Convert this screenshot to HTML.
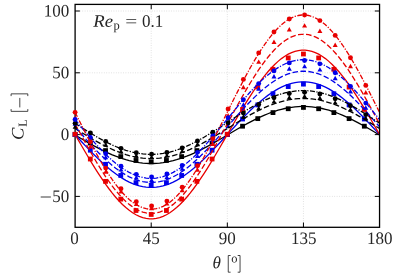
<!DOCTYPE html><html><head><meta charset="utf-8"><style>html,body{margin:0;padding:0;background:#fff}body{width:403px;height:278px;overflow:hidden}</style></head><body><svg width="403" height="278" viewBox="0 0 403 278" style="display:block;will-change:transform;font-family:'Liberation Serif',serif">
<rect width="403" height="278" fill="#fff"/>
<line x1="151.21" y1="4.4" x2="151.21" y2="227.3" stroke="#c4c4c4" stroke-width="0.6" stroke-dasharray="0.8 1.6"/>
<line x1="227.33" y1="4.4" x2="227.33" y2="227.3" stroke="#c4c4c4" stroke-width="0.6" stroke-dasharray="0.8 1.6"/>
<line x1="303.44" y1="4.4" x2="303.44" y2="227.3" stroke="#c4c4c4" stroke-width="0.6" stroke-dasharray="0.8 1.6"/>
<line x1="75.1" y1="196.40" x2="379.55" y2="196.40" stroke="#c4c4c4" stroke-width="0.6" stroke-dasharray="0.8 1.6"/>
<line x1="75.1" y1="134.60" x2="379.55" y2="134.60" stroke="#c4c4c4" stroke-width="0.6" stroke-dasharray="0.8 1.6"/>
<line x1="75.1" y1="72.80" x2="379.55" y2="72.80" stroke="#c4c4c4" stroke-width="0.6" stroke-dasharray="0.8 1.6"/>
<line x1="75.1" y1="11.00" x2="379.55" y2="11.00" stroke="#c4c4c4" stroke-width="0.6" stroke-dasharray="0.8 1.6"/>
<clipPath id="c"><rect x="75.1" y="4.4" width="304.45000000000005" height="222.9"/></clipPath>
<polyline clip-path="url(#c)" points="75.10,134.97 78.48,136.96 81.87,138.94 85.25,140.91 88.63,142.84 92.01,144.74 95.40,146.58 98.78,148.37 102.16,150.10 105.54,151.75 108.93,153.32 112.31,154.80 115.69,156.19 119.08,157.47 122.46,158.64 125.84,159.70 129.22,160.63 132.61,161.44 135.99,162.12 139.37,162.67 142.76,163.09 146.14,163.37 149.52,163.51 152.90,163.51 156.29,163.37 159.67,163.09 163.05,162.67 166.44,162.12 169.82,161.44 173.20,160.63 176.58,159.70 179.97,158.64 183.35,157.47 186.73,156.19 190.11,154.80 193.50,153.32 196.88,151.75 200.26,150.10 203.65,148.37 207.03,146.58 210.41,144.74 213.79,142.84 217.18,140.91 220.56,138.94 223.94,136.96 227.33,134.97 230.71,132.98 234.09,131.00 237.47,129.03 240.86,127.10 244.24,125.21 247.62,123.36 251.00,121.57 254.39,119.84 257.77,118.19 261.15,116.62 264.54,115.14 267.92,113.75 271.30,112.47 274.68,111.30 278.07,110.24 281.45,109.31 284.83,108.50 288.22,107.82 291.60,107.27 294.98,106.85 298.36,106.58 301.75,106.44 305.13,106.44 308.51,106.58 311.89,106.85 315.28,107.27 318.66,107.82 322.04,108.50 325.43,109.31 328.81,110.24 332.19,111.30 335.57,112.47 338.96,113.75 342.34,115.14 345.72,116.62 349.11,118.19 352.49,119.84 355.87,121.57 359.25,123.36 362.64,125.21 366.02,127.10 369.40,129.03 372.78,131.00 376.17,132.98 379.55,134.97" fill="none" stroke="#000000" stroke-width="1.3"/>
<rect x="87.92" y="140.60" width="4.8" height="4.8" fill="#000000"/>
<rect x="103.14" y="148.18" width="4.8" height="4.8" fill="#000000"/>
<rect x="118.37" y="154.20" width="4.8" height="4.8" fill="#000000"/>
<rect x="133.59" y="158.06" width="4.8" height="4.8" fill="#000000"/>
<rect x="148.81" y="159.39" width="4.8" height="4.8" fill="#000000"/>
<rect x="164.03" y="158.06" width="4.8" height="4.8" fill="#000000"/>
<rect x="179.26" y="154.20" width="4.8" height="4.8" fill="#000000"/>
<rect x="194.48" y="148.18" width="4.8" height="4.8" fill="#000000"/>
<rect x="209.70" y="140.60" width="4.8" height="4.8" fill="#000000"/>
<rect x="224.93" y="132.20" width="4.8" height="4.8" fill="#000000"/>
<rect x="240.15" y="123.80" width="4.8" height="4.8" fill="#000000"/>
<rect x="255.37" y="116.22" width="4.8" height="4.8" fill="#000000"/>
<rect x="270.59" y="110.20" width="4.8" height="4.8" fill="#000000"/>
<rect x="285.82" y="106.34" width="4.8" height="4.8" fill="#000000"/>
<rect x="301.04" y="105.01" width="4.8" height="4.8" fill="#000000"/>
<rect x="316.26" y="106.34" width="4.8" height="4.8" fill="#000000"/>
<rect x="331.48" y="110.20" width="4.8" height="4.8" fill="#000000"/>
<rect x="346.71" y="116.22" width="4.8" height="4.8" fill="#000000"/>
<rect x="361.93" y="123.80" width="4.8" height="4.8" fill="#000000"/>
<polyline clip-path="url(#c)" points="75.10,134.60 78.48,138.28 81.87,141.95 85.25,145.57 88.63,149.15 92.01,152.65 95.40,156.07 98.78,159.38 102.16,162.57 105.54,165.62 108.93,168.52 112.31,171.26 115.69,173.82 119.08,176.19 122.46,178.35 125.84,180.31 129.22,182.04 132.61,183.53 135.99,184.79 139.37,185.81 142.76,186.58 146.14,187.09 149.52,187.35 152.90,187.35 156.29,187.09 159.67,186.58 163.05,185.81 166.44,184.79 169.82,183.53 173.20,182.04 176.58,180.31 179.97,178.35 183.35,176.19 186.73,173.82 190.11,171.26 193.50,168.52 196.88,165.62 200.26,162.57 203.65,159.38 207.03,156.07 210.41,152.65 213.79,149.15 217.18,145.57 220.56,141.95 223.94,138.28 227.33,134.60 230.71,130.92 234.09,127.25 237.47,123.63 240.86,120.05 244.24,116.55 247.62,113.13 251.00,109.82 254.39,106.63 257.77,103.58 261.15,100.68 264.54,97.94 267.92,95.38 271.30,93.01 274.68,90.85 278.07,88.89 281.45,87.16 284.83,85.67 288.22,84.41 291.60,83.39 294.98,82.62 298.36,82.11 301.75,81.85 305.13,81.85 308.51,82.11 311.89,82.62 315.28,83.39 318.66,84.41 322.04,85.67 325.43,87.16 328.81,88.89 332.19,90.85 335.57,93.01 338.96,95.38 342.34,97.94 345.72,100.68 349.11,103.58 352.49,106.63 355.87,109.82 359.25,113.13 362.64,116.55 366.02,120.05 369.40,123.63 372.78,127.25 376.17,130.92 379.55,134.60" fill="none" stroke="#0000ea" stroke-width="1.3"/>
<rect x="87.92" y="147.80" width="4.8" height="4.8" fill="#0000ea"/>
<rect x="103.14" y="161.88" width="4.8" height="4.8" fill="#0000ea"/>
<rect x="118.37" y="173.05" width="4.8" height="4.8" fill="#0000ea"/>
<rect x="133.59" y="180.22" width="4.8" height="4.8" fill="#0000ea"/>
<rect x="148.81" y="182.69" width="4.8" height="4.8" fill="#0000ea"/>
<rect x="164.03" y="180.22" width="4.8" height="4.8" fill="#0000ea"/>
<rect x="179.26" y="173.05" width="4.8" height="4.8" fill="#0000ea"/>
<rect x="194.48" y="161.88" width="4.8" height="4.8" fill="#0000ea"/>
<rect x="209.70" y="147.80" width="4.8" height="4.8" fill="#0000ea"/>
<rect x="224.93" y="132.20" width="4.8" height="4.8" fill="#0000ea"/>
<rect x="240.15" y="116.60" width="4.8" height="4.8" fill="#0000ea"/>
<rect x="255.37" y="102.52" width="4.8" height="4.8" fill="#0000ea"/>
<rect x="270.59" y="91.35" width="4.8" height="4.8" fill="#0000ea"/>
<rect x="285.82" y="84.18" width="4.8" height="4.8" fill="#0000ea"/>
<rect x="301.04" y="81.71" width="4.8" height="4.8" fill="#0000ea"/>
<rect x="316.26" y="84.18" width="4.8" height="4.8" fill="#0000ea"/>
<rect x="331.48" y="91.35" width="4.8" height="4.8" fill="#0000ea"/>
<rect x="346.71" y="102.52" width="4.8" height="4.8" fill="#0000ea"/>
<rect x="361.93" y="116.60" width="4.8" height="4.8" fill="#0000ea"/>
<polyline clip-path="url(#c)" points="75.10,134.48 78.48,140.37 81.87,146.23 85.25,152.03 88.63,157.75 92.01,163.35 95.40,168.81 98.78,174.11 102.16,179.21 105.54,184.10 108.93,188.74 112.31,193.12 115.69,197.21 119.08,201.00 122.46,204.46 125.84,207.59 129.22,210.35 132.61,212.75 135.99,214.76 139.37,216.39 142.76,217.61 146.14,218.43 149.52,218.84 152.90,218.84 156.29,218.43 159.67,217.61 163.05,216.39 166.44,214.76 169.82,212.75 173.20,210.35 176.58,207.59 179.97,204.46 183.35,201.00 186.73,197.21 190.11,193.12 193.50,188.74 196.88,184.10 200.26,179.21 203.65,174.11 207.03,168.81 210.41,163.35 213.79,157.75 217.18,152.03 220.56,146.23 223.94,140.37 227.33,134.48 230.71,128.59 234.09,122.73 237.47,116.92 240.86,111.21 244.24,105.60 247.62,100.14 251.00,94.84 254.39,89.74 257.77,84.86 261.15,80.21 264.54,75.83 267.92,71.74 271.30,67.95 274.68,64.49 278.07,61.37 281.45,58.60 284.83,56.20 288.22,54.19 291.60,52.57 294.98,51.34 298.36,50.52 301.75,50.11 305.13,50.11 308.51,50.52 311.89,51.34 315.28,52.57 318.66,54.19 322.04,56.20 325.43,58.60 328.81,61.37 332.19,64.49 335.57,67.95 338.96,71.74 342.34,75.83 345.72,80.21 349.11,84.86 352.49,89.74 355.87,94.84 359.25,100.14 362.64,105.60 366.02,111.21 369.40,116.92 372.78,122.73 376.17,128.59 379.55,134.48" fill="none" stroke="#e80000" stroke-width="1.3"/>
<rect x="87.92" y="156.62" width="4.8" height="4.8" fill="#e80000"/>
<rect x="103.14" y="178.98" width="4.8" height="4.8" fill="#e80000"/>
<rect x="118.37" y="196.73" width="4.8" height="4.8" fill="#e80000"/>
<rect x="133.59" y="208.12" width="4.8" height="4.8" fill="#e80000"/>
<rect x="148.81" y="212.05" width="4.8" height="4.8" fill="#e80000"/>
<rect x="164.03" y="208.12" width="4.8" height="4.8" fill="#e80000"/>
<rect x="179.26" y="196.73" width="4.8" height="4.8" fill="#e80000"/>
<rect x="194.48" y="178.98" width="4.8" height="4.8" fill="#e80000"/>
<rect x="209.70" y="156.62" width="4.8" height="4.8" fill="#e80000"/>
<rect x="224.93" y="131.83" width="4.8" height="4.8" fill="#e80000"/>
<rect x="240.15" y="107.04" width="4.8" height="4.8" fill="#e80000"/>
<rect x="255.37" y="84.68" width="4.8" height="4.8" fill="#e80000"/>
<rect x="270.59" y="66.93" width="4.8" height="4.8" fill="#e80000"/>
<rect x="285.82" y="55.54" width="4.8" height="4.8" fill="#e80000"/>
<rect x="301.04" y="51.61" width="4.8" height="4.8" fill="#e80000"/>
<rect x="316.26" y="55.54" width="4.8" height="4.8" fill="#e80000"/>
<rect x="331.48" y="66.93" width="4.8" height="4.8" fill="#e80000"/>
<rect x="346.71" y="84.68" width="4.8" height="4.8" fill="#e80000"/>
<rect x="361.93" y="107.04" width="4.8" height="4.8" fill="#e80000"/>
<polyline clip-path="url(#c)" points="75.10,128.54 78.48,130.64 81.87,132.72 85.25,134.79 88.63,136.82 92.01,138.82 95.40,140.76 98.78,142.64 102.16,144.46 105.54,146.20 108.93,147.85 112.31,149.41 115.69,150.86 119.08,152.21 122.46,153.44 125.84,154.55 129.22,155.54 132.61,156.39 135.99,157.11 139.37,157.69 142.76,158.12 146.14,158.41 149.52,158.56 152.90,158.56 156.29,158.41 159.67,158.12 163.05,157.69 166.44,157.11 169.82,156.39 173.20,155.54 176.58,154.55 179.97,153.44 183.35,152.21 186.73,150.86 190.11,149.41 193.50,147.85 196.88,146.20 200.26,144.46 203.65,142.64 207.03,140.76 210.41,138.82 213.79,136.82 217.18,134.79 220.56,132.72 223.94,130.64 227.33,128.54 230.71,126.45 234.09,124.36 237.47,122.30 240.86,120.26 244.24,118.27 247.62,116.33 251.00,114.44 254.39,112.63 257.77,110.89 261.15,109.24 264.54,107.68 267.92,106.22 271.30,104.88 274.68,103.64 278.07,102.53 281.45,101.55 284.83,100.70 288.22,99.98 291.60,99.40 294.98,98.97 298.36,98.67 301.75,98.53 305.13,98.53 308.51,98.67 311.89,98.97 315.28,99.40 318.66,99.98 322.04,100.70 325.43,101.55 328.81,102.53 332.19,103.64 335.57,104.88 338.96,106.22 342.34,107.68 345.72,109.24 349.11,110.89 352.49,112.63 355.87,114.44 359.25,116.33 362.64,118.27 366.02,120.26 369.40,122.30 372.78,124.36 376.17,126.45 379.55,128.54" fill="none" stroke="#000000" stroke-width="1.3" stroke-dasharray="5.6 2.4"/>
<path d="M90.40 133.82L92.90 138.20L87.90 138.20Z" fill="#000000"/>
<path d="M105.70 142.32L108.20 146.69L103.20 146.69Z" fill="#000000"/>
<path d="M121.00 149.03L123.50 153.40L118.50 153.40Z" fill="#000000"/>
<path d="M136.30 153.30L138.80 157.67L133.80 157.67Z" fill="#000000"/>
<path d="M151.59 154.72L154.09 159.09L149.09 159.09Z" fill="#000000"/>
<path d="M166.89 153.14L169.39 157.51L164.39 157.51Z" fill="#000000"/>
<path d="M182.19 148.70L184.69 153.08L179.69 153.08Z" fill="#000000"/>
<path d="M197.49 141.85L199.99 146.22L194.99 146.22Z" fill="#000000"/>
<path d="M212.79 133.25L215.29 137.63L210.29 137.63Z" fill="#000000"/>
<path d="M228.09 123.77L230.59 128.15L225.59 128.15Z" fill="#000000"/>
<path d="M243.39 114.34L245.89 118.71L240.89 118.71Z" fill="#000000"/>
<path d="M258.69 105.88L261.19 110.25L256.19 110.25Z" fill="#000000"/>
<path d="M273.99 99.24L276.49 103.62L271.49 103.62Z" fill="#000000"/>
<path d="M289.29 95.07L291.79 99.45L286.79 99.45Z" fill="#000000"/>
<path d="M304.58 93.79L307.08 98.17L302.08 98.17Z" fill="#000000"/>
<path d="M319.88 95.54L322.38 99.91L317.38 99.91Z" fill="#000000"/>
<path d="M335.18 100.14L337.68 104.51L332.68 104.51Z" fill="#000000"/>
<path d="M350.48 107.13L352.98 111.51L347.98 111.51Z" fill="#000000"/>
<path d="M365.78 115.82L368.28 120.20L363.28 120.20Z" fill="#000000"/>
<polyline clip-path="url(#c)" points="75.10,126.81 78.48,130.69 81.87,134.55 85.25,138.38 88.63,142.14 92.01,145.84 95.40,149.44 98.78,152.93 102.16,156.29 105.54,159.51 108.93,162.57 112.31,165.45 115.69,168.15 119.08,170.64 122.46,172.92 125.84,174.98 129.22,176.80 132.61,178.38 135.99,179.71 139.37,180.78 142.76,181.59 146.14,182.13 149.52,182.40 152.90,182.40 156.29,182.13 159.67,181.59 163.05,180.78 166.44,179.71 169.82,178.38 173.20,176.80 176.58,174.98 179.97,172.92 183.35,170.64 186.73,168.15 190.11,165.45 193.50,162.57 196.88,159.51 200.26,156.29 203.65,152.93 207.03,149.44 210.41,145.84 213.79,142.14 217.18,138.38 220.56,134.55 223.94,130.69 227.33,126.81 230.71,122.93 234.09,119.07 237.47,115.25 240.86,111.48 244.24,107.79 247.62,104.19 251.00,100.70 254.39,97.34 257.77,94.12 261.15,91.06 264.54,88.18 267.92,85.48 271.30,82.98 274.68,80.70 278.07,78.64 281.45,76.82 284.83,75.24 288.22,73.92 291.60,72.85 294.98,72.04 298.36,71.50 301.75,71.23 305.13,71.23 308.51,71.50 311.89,72.04 315.28,72.85 318.66,73.92 322.04,75.24 325.43,76.82 328.81,78.64 332.19,80.70 335.57,82.98 338.96,85.48 342.34,88.18 345.72,91.06 349.11,94.12 352.49,97.34 355.87,100.70 359.25,104.19 362.64,107.79 366.02,111.48 369.40,115.25 372.78,119.07 376.17,122.93 379.55,126.81" fill="none" stroke="#0000ea" stroke-width="1.3" stroke-dasharray="5.6 2.4"/>
<path d="M90.40 138.97L92.90 143.34L87.90 143.34Z" fill="#0000ea"/>
<path d="M105.70 154.75L108.20 159.13L103.20 159.13Z" fill="#0000ea"/>
<path d="M121.00 167.19L123.50 171.56L118.50 171.56Z" fill="#0000ea"/>
<path d="M136.30 175.08L138.80 179.46L133.80 179.46Z" fill="#0000ea"/>
<path d="M151.59 177.71L154.09 182.08L149.09 182.08Z" fill="#0000ea"/>
<path d="M166.89 174.75L169.39 179.13L164.39 179.13Z" fill="#0000ea"/>
<path d="M182.19 166.47L184.69 170.84L179.69 170.84Z" fill="#0000ea"/>
<path d="M197.49 153.66L199.99 158.04L194.99 158.04Z" fill="#0000ea"/>
<path d="M212.79 137.61L215.29 141.98L210.29 141.98Z" fill="#0000ea"/>
<path d="M228.09 119.89L230.59 124.27L225.59 124.27Z" fill="#0000ea"/>
<path d="M243.39 102.27L245.89 106.64L240.89 106.64Z" fill="#0000ea"/>
<path d="M258.69 86.47L261.19 90.84L256.19 90.84Z" fill="#0000ea"/>
<path d="M273.99 74.07L276.49 78.44L271.49 78.44Z" fill="#0000ea"/>
<path d="M289.29 66.28L291.79 70.66L286.79 70.66Z" fill="#0000ea"/>
<path d="M304.58 63.89L307.08 68.26L302.08 68.26Z" fill="#0000ea"/>
<path d="M319.88 67.18L322.38 71.56L317.38 71.56Z" fill="#0000ea"/>
<path d="M335.18 75.86L337.68 80.24L332.68 80.24Z" fill="#0000ea"/>
<path d="M350.48 89.04L352.98 93.41L347.98 93.41Z" fill="#0000ea"/>
<path d="M365.78 105.34L368.28 109.72L363.28 109.72Z" fill="#0000ea"/>
<polyline clip-path="url(#c)" points="75.10,123.85 78.48,130.10 81.87,136.32 85.25,142.48 88.63,148.55 92.01,154.50 95.40,160.29 98.78,165.92 102.16,171.33 105.54,176.52 108.93,181.45 112.31,186.10 115.69,190.44 119.08,194.46 122.46,198.14 125.84,201.45 129.22,204.39 132.61,206.93 135.99,209.07 139.37,210.80 142.76,212.10 146.14,212.97 149.52,213.40 152.90,213.40 156.29,212.97 159.67,212.10 163.05,210.80 166.44,209.07 169.82,206.93 173.20,204.39 176.58,201.45 179.97,198.14 183.35,194.46 186.73,190.44 190.11,186.10 193.50,181.45 196.88,176.52 200.26,171.33 203.65,165.92 207.03,160.29 210.41,154.50 213.79,148.55 217.18,142.48 220.56,136.32 223.94,130.10 227.33,123.85 230.71,117.60 234.09,111.38 237.47,105.22 240.86,99.15 244.24,93.20 247.62,87.40 251.00,81.78 254.39,76.36 257.77,71.18 261.15,66.25 264.54,61.60 267.92,57.25 271.30,53.23 274.68,49.56 278.07,46.24 281.45,43.31 284.83,40.76 288.22,38.62 291.60,36.90 294.98,35.60 298.36,34.73 301.75,34.29 305.13,34.29 308.51,34.73 311.89,35.60 315.28,36.90 318.66,38.62 322.04,40.76 325.43,43.31 328.81,46.24 332.19,49.56 335.57,53.23 338.96,57.25 342.34,61.60 345.72,66.25 349.11,71.18 352.49,76.36 355.87,81.78 359.25,87.40 362.64,93.20 366.02,99.15 369.40,105.22 372.78,111.38 376.17,117.60 379.55,123.85" fill="none" stroke="#e80000" stroke-width="1.3" stroke-dasharray="5.6 2.4"/>
<path d="M90.40 144.03L92.90 148.40L87.90 148.40Z" fill="#e80000"/>
<path d="M105.70 169.28L108.20 173.65L103.20 173.65Z" fill="#e80000"/>
<path d="M121.00 189.12L123.50 193.49L118.50 193.49Z" fill="#e80000"/>
<path d="M136.30 201.71L138.80 206.08L133.80 206.08Z" fill="#e80000"/>
<path d="M151.59 205.89L154.09 210.26L149.09 210.26Z" fill="#e80000"/>
<path d="M166.89 201.15L169.39 205.52L164.39 205.52Z" fill="#e80000"/>
<path d="M182.19 187.85L184.69 192.22L179.69 192.22Z" fill="#e80000"/>
<path d="M197.49 167.30L199.99 171.68L194.99 171.68Z" fill="#e80000"/>
<path d="M212.79 141.54L215.29 145.91L210.29 145.91Z" fill="#e80000"/>
<path d="M228.09 113.11L230.59 117.48L225.59 117.48Z" fill="#e80000"/>
<path d="M243.39 84.82L245.89 89.19L240.89 89.19Z" fill="#e80000"/>
<path d="M258.69 59.47L261.19 63.85L256.19 63.85Z" fill="#e80000"/>
<path d="M273.99 39.57L276.49 43.94L271.49 43.94Z" fill="#e80000"/>
<path d="M289.29 27.08L291.79 31.45L286.79 31.45Z" fill="#e80000"/>
<path d="M304.58 23.23L307.08 27.61L302.08 27.61Z" fill="#e80000"/>
<path d="M319.88 28.56L322.38 32.93L317.38 32.93Z" fill="#e80000"/>
<path d="M335.18 42.58L337.68 46.95L332.68 46.95Z" fill="#e80000"/>
<path d="M350.48 63.82L352.98 68.20L347.98 68.20Z" fill="#e80000"/>
<path d="M365.78 90.08L368.28 94.45L363.28 94.45Z" fill="#e80000"/>
<polyline clip-path="url(#c)" points="75.10,123.23 78.48,125.45 81.87,127.65 85.25,129.83 88.63,131.96 92.01,134.05 95.40,136.08 98.78,138.04 102.16,139.92 105.54,141.72 108.93,143.42 112.31,145.02 115.69,146.52 119.08,147.90 122.46,149.16 125.84,150.29 129.22,151.29 132.61,152.16 135.99,152.89 139.37,153.47 142.76,153.91 146.14,154.21 149.52,154.36 152.90,154.36 156.29,154.20 159.67,153.89 163.05,153.43 166.44,152.82 169.82,152.05 173.20,151.15 176.58,150.10 179.97,148.92 183.35,147.62 186.73,146.19 190.11,144.64 193.50,142.98 196.88,141.23 200.26,139.39 203.65,137.46 207.03,135.46 210.41,133.39 213.79,131.28 217.18,129.12 220.56,126.93 223.94,124.71 227.33,122.49 230.71,120.26 234.09,118.05 237.47,115.86 240.86,113.70 244.24,111.58 247.62,109.52 251.00,107.52 254.39,105.59 257.77,103.74 261.15,101.99 264.54,100.34 267.92,98.79 271.30,97.36 274.68,96.05 278.07,94.87 281.45,93.83 284.83,92.92 288.22,92.16 291.60,91.55 294.98,91.08 298.36,90.77 301.75,90.62 305.13,90.62 308.51,90.78 311.89,91.11 315.28,91.59 318.66,92.23 322.04,93.02 325.43,93.97 328.81,95.06 332.19,96.28 335.57,97.64 338.96,99.12 342.34,100.72 345.72,102.42 349.11,104.23 352.49,106.12 355.87,108.09 359.25,110.14 362.64,112.24 366.02,114.38 369.40,116.57 372.78,118.78 376.17,121.00 379.55,123.23" fill="none" stroke="#000000" stroke-width="1.3" stroke-dasharray="5.0 1.5 1.2 1.5"/>
<circle cx="90.40" cy="132.95" r="2.45" fill="#000000"/>
<circle cx="105.70" cy="141.57" r="2.45" fill="#000000"/>
<circle cx="121.00" cy="148.36" r="2.45" fill="#000000"/>
<circle cx="136.30" cy="152.69" r="2.45" fill="#000000"/>
<circle cx="151.59" cy="154.13" r="2.45" fill="#000000"/>
<circle cx="166.89" cy="152.52" r="2.45" fill="#000000"/>
<circle cx="182.19" cy="148.01" r="2.45" fill="#000000"/>
<circle cx="197.49" cy="141.05" r="2.45" fill="#000000"/>
<circle cx="212.79" cy="132.32" r="2.45" fill="#000000"/>
<circle cx="228.09" cy="122.68" r="2.45" fill="#000000"/>
<circle cx="243.39" cy="113.09" r="2.45" fill="#000000"/>
<circle cx="258.69" cy="104.50" r="2.45" fill="#000000"/>
<circle cx="273.99" cy="97.75" r="2.45" fill="#000000"/>
<circle cx="289.29" cy="93.52" r="2.45" fill="#000000"/>
<circle cx="304.58" cy="92.21" r="2.45" fill="#000000"/>
<circle cx="319.88" cy="93.99" r="2.45" fill="#000000"/>
<circle cx="335.18" cy="98.68" r="2.45" fill="#000000"/>
<circle cx="350.48" cy="105.81" r="2.45" fill="#000000"/>
<circle cx="365.78" cy="114.66" r="2.45" fill="#000000"/>
<polyline clip-path="url(#c)" points="75.10,119.52 78.48,123.66 81.87,127.77 85.25,131.83 88.63,135.84 92.01,139.75 95.40,143.57 98.78,147.26 102.16,150.82 105.54,154.22 108.93,157.45 112.31,160.49 115.69,163.34 119.08,165.96 122.46,168.37 125.84,170.53 129.22,172.45 132.61,174.10 135.99,175.50 139.37,176.62 142.76,177.47 146.14,178.03 149.52,178.32 152.90,178.32 156.29,178.03 159.67,177.45 163.05,176.59 166.44,175.45 169.82,174.03 173.20,172.35 176.58,170.41 179.97,168.21 183.35,165.78 186.73,163.12 190.11,160.24 193.50,157.16 196.88,153.90 200.26,150.47 203.65,146.88 207.03,143.16 210.41,139.32 213.79,135.38 217.18,131.36 220.56,127.28 223.94,123.16 227.33,119.03 230.71,114.89 234.09,110.77 237.47,106.69 240.86,102.67 244.24,98.74 247.62,94.90 251.00,91.17 254.39,87.59 257.77,84.15 261.15,80.89 264.54,77.81 267.92,74.94 271.30,72.28 274.68,69.84 278.07,67.65 281.45,65.70 284.83,64.02 288.22,62.60 291.60,61.46 294.98,60.60 298.36,60.02 301.75,59.73 305.13,59.74 308.51,60.03 311.89,60.61 315.28,61.49 318.66,62.65 322.04,64.09 325.43,65.80 328.81,67.77 332.19,70.00 335.57,72.46 338.96,75.16 342.34,78.07 345.72,81.18 349.11,84.48 352.49,87.94 355.87,91.56 359.25,95.31 362.64,99.17 366.02,103.13 369.40,107.16 372.78,111.25 376.17,115.38 379.55,119.52" fill="none" stroke="#0000ea" stroke-width="1.3" stroke-dasharray="5.0 1.5 1.2 1.5"/>
<circle cx="90.40" cy="137.54" r="2.45" fill="#0000ea"/>
<circle cx="105.70" cy="153.64" r="2.45" fill="#0000ea"/>
<circle cx="121.00" cy="166.30" r="2.45" fill="#0000ea"/>
<circle cx="136.30" cy="174.33" r="2.45" fill="#0000ea"/>
<circle cx="151.59" cy="176.99" r="2.45" fill="#0000ea"/>
<circle cx="166.89" cy="173.97" r="2.45" fill="#0000ea"/>
<circle cx="182.19" cy="165.48" r="2.45" fill="#0000ea"/>
<circle cx="197.49" cy="152.37" r="2.45" fill="#0000ea"/>
<circle cx="212.79" cy="135.94" r="2.45" fill="#0000ea"/>
<circle cx="228.09" cy="117.80" r="2.45" fill="#0000ea"/>
<circle cx="243.39" cy="99.75" r="2.45" fill="#0000ea"/>
<circle cx="258.69" cy="83.58" r="2.45" fill="#0000ea"/>
<circle cx="273.99" cy="70.88" r="2.45" fill="#0000ea"/>
<circle cx="289.29" cy="62.91" r="2.45" fill="#0000ea"/>
<circle cx="304.58" cy="60.46" r="2.45" fill="#0000ea"/>
<circle cx="319.88" cy="63.85" r="2.45" fill="#0000ea"/>
<circle cx="335.18" cy="72.80" r="2.45" fill="#0000ea"/>
<circle cx="350.48" cy="86.36" r="2.45" fill="#0000ea"/>
<circle cx="365.78" cy="103.12" r="2.45" fill="#0000ea"/>
<polyline clip-path="url(#c)" points="75.10,112.35 78.48,119.13 81.87,125.87 85.25,132.54 88.63,139.11 92.01,145.55 95.40,151.83 98.78,157.91 102.16,163.76 105.54,169.37 108.93,174.70 112.31,179.72 115.69,184.41 119.08,188.75 122.46,192.72 125.84,196.30 129.22,199.47 132.61,202.22 135.99,204.52 139.37,206.38 142.76,207.79 146.14,208.72 149.52,209.20 152.90,209.20 156.29,208.72 159.67,207.78 163.05,206.37 166.44,204.50 169.82,202.18 173.20,199.42 176.58,196.24 179.97,192.65 183.35,188.66 186.73,184.30 190.11,179.59 193.50,174.55 196.88,169.21 200.26,163.59 203.65,157.71 207.03,151.62 210.41,145.33 213.79,138.88 217.18,132.30 220.56,125.63 223.94,118.88 227.33,112.10 230.71,105.33 234.09,98.58 237.47,91.91 240.86,85.33 244.24,78.88 247.62,72.59 251.00,66.50 254.39,60.62 257.77,55.00 261.15,49.66 264.54,44.62 267.92,39.91 271.30,35.55 274.68,31.56 278.07,27.97 281.45,24.79 284.83,22.03 288.22,19.71 291.60,17.84 294.98,16.43 298.36,15.49 301.75,15.01 305.13,15.01 308.51,15.49 311.89,16.44 315.28,17.86 318.66,19.73 322.04,22.06 325.43,24.83 328.81,28.03 332.19,31.64 335.57,35.64 338.96,40.02 342.34,44.75 345.72,49.80 349.11,55.16 352.49,60.80 355.87,66.69 359.25,72.80 362.64,79.10 366.02,85.56 369.40,92.14 372.78,98.83 376.17,105.57 379.55,112.35" fill="none" stroke="#e80000" stroke-width="1.3" stroke-dasharray="5.0 1.5 1.2 1.5"/>
<circle cx="90.40" cy="141.84" r="2.45" fill="#e80000"/>
<circle cx="105.70" cy="168.11" r="2.45" fill="#e80000"/>
<circle cx="121.00" cy="188.69" r="2.45" fill="#e80000"/>
<circle cx="136.30" cy="201.72" r="2.45" fill="#e80000"/>
<circle cx="151.59" cy="206.04" r="2.45" fill="#e80000"/>
<circle cx="166.89" cy="201.08" r="2.45" fill="#e80000"/>
<circle cx="182.19" cy="187.17" r="2.45" fill="#e80000"/>
<circle cx="197.49" cy="165.68" r="2.45" fill="#e80000"/>
<circle cx="212.79" cy="138.73" r="2.45" fill="#e80000"/>
<circle cx="228.09" cy="108.99" r="2.45" fill="#e80000"/>
<circle cx="243.39" cy="79.40" r="2.45" fill="#e80000"/>
<circle cx="258.69" cy="52.89" r="2.45" fill="#e80000"/>
<circle cx="273.99" cy="32.07" r="2.45" fill="#e80000"/>
<circle cx="289.29" cy="19.00" r="2.45" fill="#e80000"/>
<circle cx="304.58" cy="14.98" r="2.45" fill="#e80000"/>
<circle cx="319.88" cy="20.61" r="2.45" fill="#e80000"/>
<circle cx="335.18" cy="35.42" r="2.45" fill="#e80000"/>
<circle cx="350.48" cy="57.82" r="2.45" fill="#e80000"/>
<circle cx="365.78" cy="85.42" r="2.45" fill="#e80000"/>
<rect x="75.1" y="4.4" width="304.45000000000005" height="222.9" fill="none" stroke="#000" stroke-width="1.3"/>
<line x1="151.21" y1="227.3" x2="151.21" y2="222.5" stroke="#000" stroke-width="1.0"/>
<line x1="151.21" y1="4.4" x2="151.21" y2="9.2" stroke="#000" stroke-width="1.0"/>
<line x1="227.33" y1="227.3" x2="227.33" y2="222.5" stroke="#000" stroke-width="1.0"/>
<line x1="227.33" y1="4.4" x2="227.33" y2="9.2" stroke="#000" stroke-width="1.0"/>
<line x1="303.44" y1="227.3" x2="303.44" y2="222.5" stroke="#000" stroke-width="1.0"/>
<line x1="303.44" y1="4.4" x2="303.44" y2="9.2" stroke="#000" stroke-width="1.0"/>
<line x1="75.1" y1="196.40" x2="79.89999999999999" y2="196.40" stroke="#000" stroke-width="1.0"/>
<line x1="379.55" y1="196.40" x2="374.75" y2="196.40" stroke="#000" stroke-width="1.0"/>
<line x1="75.1" y1="134.60" x2="79.89999999999999" y2="134.60" stroke="#000" stroke-width="1.0"/>
<line x1="379.55" y1="134.60" x2="374.75" y2="134.60" stroke="#000" stroke-width="1.0"/>
<line x1="75.1" y1="72.80" x2="79.89999999999999" y2="72.80" stroke="#000" stroke-width="1.0"/>
<line x1="379.55" y1="72.80" x2="374.75" y2="72.80" stroke="#000" stroke-width="1.0"/>
<line x1="75.1" y1="11.00" x2="79.89999999999999" y2="11.00" stroke="#000" stroke-width="1.0"/>
<line x1="379.55" y1="11.00" x2="374.75" y2="11.00" stroke="#000" stroke-width="1.0"/>
<rect x="72.70" y="132.20" width="4.8" height="4.8" fill="#000000"/>
<rect x="72.70" y="132.20" width="4.8" height="4.8" fill="#0000ea"/>
<rect x="72.70" y="131.83" width="4.8" height="4.8" fill="#e80000"/>
<path d="M75.10 124.38L77.60 128.75L72.60 128.75Z" fill="#000000"/>
<path d="M75.10 121.35L77.60 125.72L72.60 125.72Z" fill="#0000ea"/>
<path d="M75.10 115.78L77.60 120.16L72.60 120.16Z" fill="#e80000"/>
<circle cx="75.10" cy="123.35" r="2.45" fill="#000000"/>
<circle cx="75.10" cy="119.52" r="2.45" fill="#0000ea"/>
<circle cx="75.10" cy="112.35" r="2.45" fill="#e80000"/>
<text transform="translate(74.60,244.10) rotate(0.03) scale(1,1.03)" font-size="17.0" text-anchor="middle" fill="#262626">0</text>
<text transform="translate(151.21,244.10) rotate(0.03) scale(1,1.03)" font-size="17.0" text-anchor="middle" fill="#262626">45</text>
<text transform="translate(227.33,244.10) rotate(0.03) scale(1,1.03)" font-size="17.0" text-anchor="middle" fill="#262626">90</text>
<text transform="translate(303.64,244.10) rotate(0.03) scale(1,1.03)" font-size="17.0" text-anchor="middle" fill="#262626">135</text>
<text transform="translate(379.75,244.10) rotate(0.03) scale(1,1.03)" font-size="17.0" text-anchor="middle" fill="#262626">180</text>
<text transform="translate(69.30,201.90) rotate(0.03) scale(1,1.03)" font-size="17.0" text-anchor="end" fill="#262626">50</text>
<text transform="translate(69.30,140.10) rotate(0.03) scale(1,1.03)" font-size="17.0" text-anchor="end" fill="#262626">0</text>
<text transform="translate(69.30,78.30) rotate(0.03) scale(1,1.03)" font-size="17.0" text-anchor="end" fill="#262626">50</text>
<text transform="translate(69.30,16.50) rotate(0.03) scale(1,1.03)" font-size="17.0" text-anchor="end" fill="#262626">100</text>
<path d="M40.7 197.00H50.9" stroke="#262626" stroke-width="0.9" fill="none"/>
<text transform="translate(212.60,268.30) rotate(0.03) scale(1,1.0)" font-size="17.0" font-style="italic" textLength="8.4" lengthAdjust="spacingAndGlyphs" fill="#262626">θ</text>
<path d="M230.60 255.50H228.25V272.20H230.60" fill="none" stroke="#262626" stroke-width="0.85"/>
<text transform="translate(231.30,262.50) rotate(0.03) scale(1,1.0)" font-size="12.5" fill="#262626">o</text>
<path d="M237.70 255.50H240.05V272.20H237.70" fill="none" stroke="#262626" stroke-width="0.85"/>
<g transform="translate(23.9,139.9) rotate(-90)" fill="#262626"><text transform="translate(0.00,-0.40) rotate(0.03) scale(1,1.03)" font-size="17.0" font-style="italic" textLength="12.4" lengthAdjust="spacingAndGlyphs" fill="#262626">C</text><text transform="translate(13.10,2.90) rotate(0.03) scale(1,1.03)" font-size="12" fill="#262626">L</text><path d="M30.80 -12.80H28.55V3.90H30.80" fill="none" stroke="#262626" stroke-width="0.85"/><path d="M32.5 -4.1H42" stroke="#262626" stroke-width="0.85" fill="none"/><path d="M43.80 -12.80H46.05V3.90H43.80" fill="none" stroke="#262626" stroke-width="0.85"/></g>
<text transform="translate(93.20,26.80) rotate(0.03) scale(1,1.03)" font-size="17.0" font-style="italic" textLength="19.8" lengthAdjust="spacingAndGlyphs" fill="#262626">Re</text>
<text transform="translate(113.40,29.40) rotate(0.03) scale(1,1.03)" font-size="12.5" fill="#262626">p</text>
<text transform="translate(125.20,26.80) rotate(0.03) scale(1,1.0)" font-size="17.0" textLength="12" lengthAdjust="spacingAndGlyphs" fill="#262626">=</text>
<text transform="translate(142.10,26.80) rotate(0.03) scale(1,1.03)" font-size="17.0" fill="#262626">0.1</text>
</svg></body></html>
